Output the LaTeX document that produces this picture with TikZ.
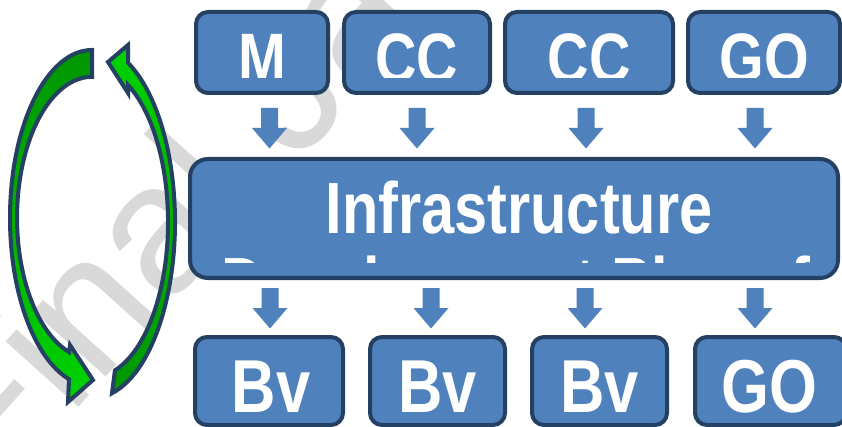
\documentclass[tikz,border=0pt]{standalone}
\usepackage{fontspec}
\newfontfamily\boxfont{Liberation Sans}[FakeStretch=0.82]
\newfontfamily\wmfont{Liberation Sans}
\definecolor{boxfill}{RGB}{79,129,189}
\definecolor{boxline}{RGB}{36,64,98}
\definecolor{wmgray}{RGB}{217,217,217}
\definecolor{greendark}{RGB}{0,150,0}
\definecolor{greenlight}{RGB}{0,210,0}
\newcommand\blockarrowat[2]{%
  \fill[blockarrow] (#1-8.5,#2) -- (#1+8.5,#2) -- (#1+8.5,#2+20) -- (#1+17.5,#2+20)
    -- (#1,#2+40.5) -- (#1-17.5,#2+20) -- (#1-8.5,#2+20) -- cycle;}
\begin{document}
\begin{tikzpicture}[x=1pt,y=-1pt,
  box/.style={draw=boxline, line width=4pt, fill=boxfill, rounded corners=12pt,
    inner sep=0pt, rectangle},
  bigbox/.style={box, rounded corners=18pt},
  toptext/.style={text=white, inner sep=0pt, anchor=base,
    font=\boxfont\bfseries\fontsize{70}{70}\selectfont},
  midtext/.style={text=white, inner sep=0pt, anchor=base,
    font=\boxfont\bfseries\fontsize{72.6}{72.6}\selectfont},
  bottext/.style={text=white, inner sep=0pt, anchor=base,
    font=\boxfont\bfseries\fontsize{75}{75}\selectfont},
  blockarrow/.style={fill=boxfill},
  cyc/.style={draw=boxline, line width=4pt, line join=miter},
  wm/.style={text=wmgray, inner sep=0pt, font=\wmfont\fontsize{185}{185}\selectfont}
]
\useasboundingbox (0,0) rectangle (842,427);
\fill[white] (0,0) rectangle (842,427);

% watermark
\node[wm, rotate=48, anchor=base west] (wmark) at (-5.6,501) {Final Ja};

% cycle arrows
\draw[cyc, top color=greendark, bottom color=greenlight]
  (92,50) arc[start angle=270, end angle=106.3, x radius=82, y radius=168]
  -- (68,402) -- (93,380) -- (70,345) -- (69,352)
  arc[start angle=107.9, end angle=270, x radius=75, y radius=141] -- cycle;
\draw[cyc, top color=greenlight, bottom color=greendark]
  (112,393.2) arc[start angle=76.6, end angle=-64.7, x radius=82, y radius=176]
  -- (128,45) -- (108,62) -- (128,93) -- (128,85)
  arc[start angle=-62.2, end angle=73, x radius=75, y radius=155] -- cycle;

% top row
\node[box, minimum width=132pt, minimum height=81pt] (m) at (262,52.5) {};
\node[box, minimum width=146pt, minimum height=81pt] (cc1) at (417,52.5) {};
\node[box, minimum width=168pt, minimum height=81pt] (cc2) at (589,52.5) {};
\node[box, minimum width=152pt, minimum height=81pt] (go1) at (764,52.5) {};
\begin{scope}
  \clip (0,0) rectangle (842,78);
  \node[toptext] (tm) at (262,83) {M};
  \node[toptext] (tcc1) at (417,83) {CC};
  \node[toptext] (tcc2) at (589,83) {CC};
  \node[toptext] (tgo1) at (764,83) {GO};
\end{scope}

% arrows into the plan
\blockarrowat{269.5}{108}
\blockarrowat{417}{108}
\blockarrowat{586}{108}
\blockarrowat{755}{108}

% middle box
\node[bigbox, minimum width=648pt, minimum height=119pt] (plan) at (514,218.5) {};
\begin{scope}
  \clip (0,0) rectangle (842,263);
  \node[midtext] (l1) at (519,234) {Infrastructure};
  \node[midtext] (l2) at (516,308) {Development Plan of};
\end{scope}

% arrows out of the plan
\blockarrowat{270}{288}
\blockarrowat{431}{288}
\blockarrowat{585}{288}
\blockarrowat{755}{288}

% bottom row
\node[box, minimum width=148pt, minimum height=88pt] (bv1) at (269,381) {};
\node[box, minimum width=135pt, minimum height=88pt] (bv2) at (437.5,381) {};
\node[box, minimum width=135pt, minimum height=88pt] (bv3) at (599.5,381) {};
\node[box, minimum width=151pt, minimum height=88pt] (go2) at (770.5,381) {};
\node[bottext] (tbv1) at (271,412) {Bv};
\node[bottext] (tbv2) at (437.5,412) {Bv};
\node[bottext] (tbv3) at (599.5,412) {Bv};
\node[bottext] (tgo2) at (769,412) {GO};
\end{tikzpicture}
\end{document}
